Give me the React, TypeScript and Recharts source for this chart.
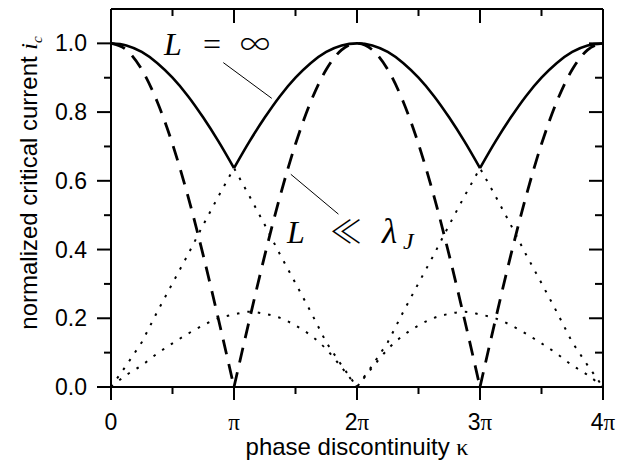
import { LineChart, Line, XAxis, YAxis, ReferenceLine } from 'recharts'

// phase discontinuity κ, in units of π
const kappa = [
  0, 0.125, 0.25, 0.375, 0.5, 0.625, 0.75, 0.875, 1, 1.125, 1.25, 1.375, 1.5, 1.625, 1.75, 1.875, 2,
  2.125, 2.25, 2.375, 2.5, 2.625, 2.75, 2.875, 3, 3.125, 3.25, 3.375, 3.5, 3.625, 3.75, 3.875, 4,
]

// L = ∞ (solid)
const icLong = [
  1, 0.994, 0.975, 0.943, 0.9, 0.847, 0.784, 0.714, 0.637, 0.714, 0.784, 0.847, 0.9, 0.943, 0.975, 0.994, 1,
  0.994, 0.975, 0.943, 0.9, 0.847, 0.784, 0.714, 0.637, 0.714, 0.784, 0.847, 0.9, 0.943, 0.975, 0.994, 1,
]

// L << λJ (dashed)
const icShort = [
  1, 0.981, 0.924, 0.831, 0.707, 0.556, 0.383, 0.195, 0, 0.195, 0.383, 0.556, 0.707, 0.831, 0.924, 0.981, 1,
  0.981, 0.924, 0.831, 0.707, 0.556, 0.383, 0.195, 0, 0.195, 0.383, 0.556, 0.707, 0.831, 0.924, 0.981, 1,
]

// dotted, the steep one
const icBranch = [
  0, 0.063, 0.13, 0.218, 0.302, 0.385, 0.472, 0.556, 0.637, 0.556, 0.472, 0.385, 0.302, 0.218, 0.13, 0.063, 0,
  0.063, 0.13, 0.218, 0.302, 0.385, 0.472, 0.556, 0.637, 0.556, 0.472, 0.385, 0.302, 0.218, 0.13, 0.063, 0,
]

// dotted, the low hump
const icHump = [
  0, 0.035, 0.063, 0.097, 0.127, 0.155, 0.18, 0.2, 0.211, 0.219, 0.213, 0.201, 0.179, 0.15, 0.11, 0.057, 0,
  0.057, 0.11, 0.15, 0.179, 0.201, 0.213, 0.219, 0.211, 0.2, 0.18, 0.155, 0.127, 0.097, 0.063, 0.035, 0,
]

const xTicks = [0, 0.5, 1, 1.5, 2, 2.5, 3, 3.5, 4]
const yTicks = [0, 0.1, 0.2, 0.3, 0.4, 0.5, 0.6, 0.7, 0.8, 0.9, 1.0]
const xLabels = ['0', 'π', '2π', '3π', '4π']

// pieces between the cusps (index ranges)
const cusps3 = [[0, 8], [8, 24], [24, 32]]
const cusps2 = [[0, 16], [16, 32]]

const part = (vals: number[], r: number[], i: number) => (i >= r[0] && i <= r[1] ? vals[i] : null)

const rows = kappa.map((k, i) => {
  const row: Record<string, number | null> = { k, branch: icBranch[i] }
  cusps3.forEach((r, j) => {
    row['long' + j] = part(icLong, r, i)
    row['short' + j] = part(icShort, r, i)
  })
  cusps2.forEach((r, j) => {
    row['hump' + j] = part(icHump, r, i)
  })
  return row
})

const SANS = '"Liberation Sans", Arial, sans-serif'
const SERIF = '"Liberation Serif", "Times New Roman", serif'
const SYM = '"Noto Sans CJK JP", "DejaVu Sans", sans-serif'

const isMajorX = (v: number) => Number.isInteger(v)
const isMajorY = (v: number) => Math.round(v * 10) % 2 === 0

function BottomTick({ x, y, payload }: any) {
  const v = payload.value
  const major = isMajorX(v)
  const lab = major ? xLabels[v] : ''
  return (
    <g>
      <line x1={x} y1={y} x2={x} y2={y + (major ? 13 : 7)} stroke="#000" strokeWidth={2} />
      {major && (
        <text x={x} y={y + 43} textAnchor="middle" fontSize={23} fontFamily={SANS} fill="#000">
          {lab.replace('π', '')}
          {lab.includes('π') && <tspan fontFamily={SERIF}>π</tspan>}
        </text>
      )}
    </g>
  )
}

function TopTick({ x, y, payload }: any) {
  const major = isMajorX(payload.value)
  return <line x1={x} y1={y} x2={x} y2={y + (major ? 14 : 7)} stroke="#000" strokeWidth={2} />
}

function LeftTick({ x, y, payload }: any) {
  const v = payload.value
  const major = isMajorY(v)
  return (
    <g>
      <line x1={x - (major ? 14 : 7)} y1={y} x2={x} y2={y} stroke="#000" strokeWidth={2} />
      {major && (
        <text x={x - 24} y={y + 8} textAnchor="end" fontSize={23} fontFamily={SANS} fill="#000">
          {v.toFixed(1)}
        </text>
      )}
    </g>
  )
}

function RightTick({ x, y, payload }: any) {
  const major = isMajorY(payload.value)
  return <line x1={x - (major ? 14 : 8)} y1={y} x2={x} y2={y} stroke="#000" strokeWidth={2} />
}

const axisLine = { stroke: '#000', strokeWidth: 2 }

export default function App() {
  return (
    <div style={{ position: 'absolute', left: 0, top: 0, width: 628, height: 462, background: '#fff' }}>
      <LineChart width={628} height={462} data={rows} margin={{ top: 8, right: 24, bottom: 0, left: 0 }}>
        <XAxis
          dataKey="k"
          type="number"
          domain={[0, 4]}
          allowDataOverflow
          ticks={xTicks}
          interval={0}
          height={75}
          tickSize={0}
          tickMargin={0}
          tickLine={false}
          axisLine={axisLine}
          tick={<BottomTick />}
        />
        <XAxis
          xAxisId="top"
          orientation="top"
          dataKey="k"
          type="number"
          domain={[0, 4]}
          allowDataOverflow
          ticks={xTicks}
          interval={0}
          height={1}
          tickSize={0}
          tickMargin={0}
          tickLine={false}
          axisLine={axisLine}
          tick={<TopTick />}
        />
        <YAxis
          type="number"
          domain={[0, 1.1]}
          allowDataOverflow
          ticks={yTicks}
          interval={0}
          width={111}
          tickSize={0}
          tickMargin={0}
          tickLine={false}
          axisLine={axisLine}
          tick={<LeftTick />}
        />
        <YAxis
          yAxisId="right"
          orientation="right"
          type="number"
          domain={[0, 1.1]}
          allowDataOverflow
          ticks={yTicks}
          interval={0}
          width={1}
          tickSize={0}
          tickMargin={0}
          tickLine={false}
          axisLine={axisLine}
          tick={<RightTick />}
        />

        <Line dataKey="branch" type="linear" stroke="#000" strokeWidth={2} strokeDasharray="2.5 8" dot={false} activeDot={false} isAnimationActive={false} />
        {cusps2.map((_, j) => (
          <Line key={'h' + j} dataKey={'hump' + j} type="monotone" stroke="#000" strokeWidth={2} strokeDasharray="2.5 8" dot={false} activeDot={false} connectNulls={false} isAnimationActive={false} />
        ))}
        {cusps3.map((_, j) => (
          <Line key={'s' + j} dataKey={'short' + j} type="monotone" stroke="#000" strokeWidth={2.8} strokeDasharray="15 10" dot={false} activeDot={false} connectNulls={false} isAnimationActive={false} />
        ))}
        {cusps3.map((_, j) => (
          <Line key={'l' + j} dataKey={'long' + j} type="monotone" stroke="#000" strokeWidth={2.6} dot={false} activeDot={false} connectNulls={false} isAnimationActive={false} />
        ))}

        <ReferenceLine segment={[{ x: 0.913, y: 0.944 }, { x: 1.307, y: 0.84 }]} stroke="#000" strokeWidth={1} ifOverflow="visible" />
        <ReferenceLine segment={[{ x: 1.462, y: 0.619 }, { x: 1.849, y: 0.503 }]} stroke="#000" strokeWidth={1} ifOverflow="visible" />
      </LineChart>

      <svg width={628} height={462} style={{ position: 'absolute', left: 0, top: 0, pointerEvents: 'none' }}>
        <text y={55} fontSize={32} fontFamily={SERIF} fill="#000">
          <tspan x={164} fontStyle="italic">L</tspan>
          <tspan x={203}>=</tspan>
          <tspan x={240} fontSize={30} fontWeight={300} fontFamily={SYM}>∞</tspan>
        </text>
        <text y={243} fontSize={32} fontFamily={SERIF} fill="#000">
          <tspan x={287} fontStyle="italic">L</tspan>
          <tspan x={330} fontSize={32} fontWeight={300} fontFamily={SYM}>≪</tspan>
          <tspan x={382} fontSize={35} fontStyle="italic">λ</tspan>
          <tspan x={403} dy={6} fontSize={24} fontStyle="italic">J</tspan>
        </text>
        <text x={357} y={455} textAnchor="middle" fontSize={24} fontFamily={SANS} fill="#000">
          phase discontinuity <tspan fontFamily={SERIF}>κ</tspan>
        </text>
        <text x={37} y={183} textAnchor="middle" fontSize={24} fontFamily={SANS} fill="#000" transform="rotate(-90 37 183)">
          normalized critical current{' '}
          <tspan fontFamily={SERIF} fontStyle="italic">i</tspan>
          <tspan fontFamily={SERIF} fontStyle="italic" fontSize={15} dy={5}>c</tspan>
        </text>
      </svg>
    </div>
  )
}
